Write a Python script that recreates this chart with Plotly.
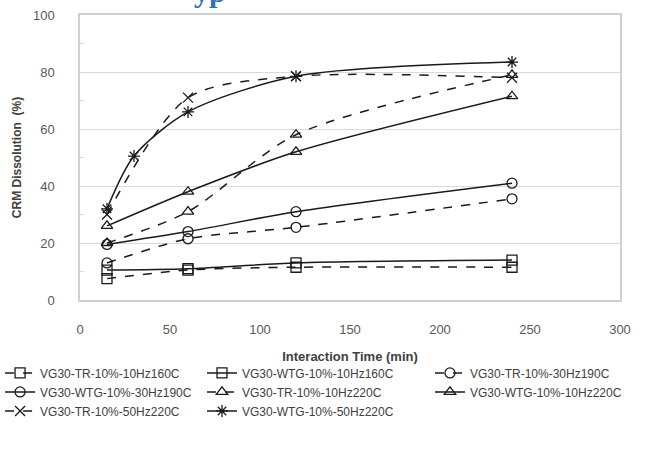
import plotly.graph_objects as go

# ---- data ----
x4 = [15, 60, 120, 240]
x5 = [15, 30, 60, 120, 240]

names = [
    "VG30-TR-10%-10Hz160C",
    "VG30-WTG-10%-10Hz160C",
    "VG30-TR-10%-30Hz190C",
    "VG30-WTG-10%-30Hz190C",
    "VG30-TR-10%-10Hz220C",
    "VG30-WTG-10%-10Hz220C",
    "VG30-TR-10%-50Hz220C",
    "VG30-WTG-10%-50Hz220C",
]
tr_160 = [7.5, 10.5, 11.5, 11.5]
wtg_160 = [10.5, 11, 13, 14]
tr_190 = [13, 21.5, 25.5, 35.5]
wtg_190 = [19.5, 24, 31, 41]
tr_220_10 = [20, 31, 58, 79]
wtg_220_10 = [26, 38, 52, 71.5]
tr_220_50 = [30, 71, 78.5, 78]
wtg_220_50 = [32, 50.5, 66, 78.5, 83.5]

series = [
    (names[0], x4, tr_160, "square-open", "dash"),
    (names[1], x4, wtg_160, "square-open", "solid"),
    (names[2], x4, tr_190, "circle-open", "dash"),
    (names[3], x4, wtg_190, "circle-open", "solid"),
    (names[4], x4, tr_220_10, "triangle-up-open", "dash"),
    (names[5], x4, wtg_220_10, "triangle-up-open", "solid"),
    (names[6], x4, tr_220_50, "x-thin-open", "dash"),
    (names[7], x5, wtg_220_50, "asterisk-open", "solid"),
]
legend_ids = ["legend", "legend2", "legend3"]

fig = go.Figure()
for i, (name, xs, ys, sym, dash) in enumerate(series):
    fig.add_trace(go.Scatter(
        x=xs, y=ys, name=name, mode="lines+markers",
        legend=legend_ids[i % 3],
        line=dict(color="#1a1a1a", width=1.5, dash=dash, shape="spline", smoothing=0.8),
        marker=dict(symbol=sym, size=10, color="#1a1a1a", line=dict(width=1.3, color="#1a1a1a")),
    ))

font_family = "Liberation Sans, Arial"
leg_font = dict(family=font_family, size=12, color="#404040")
leg_common = dict(orientation="v", xanchor="left", y=-0.205, yanchor="top",
                  itemwidth=30, font=leg_font, tracegroupgap=0,
                  bgcolor="rgba(0,0,0,0)")

fig.update_layout(
    width=650, height=457,
    margin=dict(l=80, r=30, t=15, b=157, autoexpand=False),
    paper_bgcolor="white", plot_bgcolor="white",
    font=dict(family=font_family, size=12, color="#404040"),
    showlegend=True,
    legend=dict(x=-0.148, **leg_common),
    legend2=dict(x=0.2259, **leg_common),
    legend3=dict(x=0.6481, **leg_common),
    xaxis=dict(
        range=[0, 300], dtick=50, tick0=0, showgrid=False, zeroline=False,
        showline=True, linecolor="#d0d0d0", linewidth=1.5, mirror=True,
        ticks="", ticklabelstandoff=17,
        tickfont=dict(size=13, color="#595959"),
        title=dict(text="<b>Interaction Time (min)</b>", standoff=16,
                   font=dict(size=13, color="#404040")),
    ),
    yaxis=dict(
        range=[0, 100], dtick=20, tick0=0, showgrid=True, gridcolor="#d9d9d9", gridwidth=1.3,
        zeroline=False, showline=True, linecolor="#d0d0d0", linewidth=1.5, mirror=True,
        ticks="", ticklabelstandoff=21,
        tickfont=dict(size=13, color="#595959"),
        minor=dict(dtick=10, tick0=10, ticks="inside", ticklen=4, tickcolor="#d9d9d9", showgrid=False),
        title=dict(text="<b>CRM Dissolution  (%)</b>", standoff=9,
                   font=dict(size=12, color="#404040")),
    ),
)

# cropped page heading fragment visible at top
fig.add_annotation(
    text="<b>yp</b>", xref="paper", yref="paper", x=0.2405, y=1.082,
    xanchor="center", yanchor="middle", showarrow=False,
    font=dict(family="Liberation Serif, DejaVu Serif", size=30, color="#2e74b5"),
)

fig.write_html("out.html")
